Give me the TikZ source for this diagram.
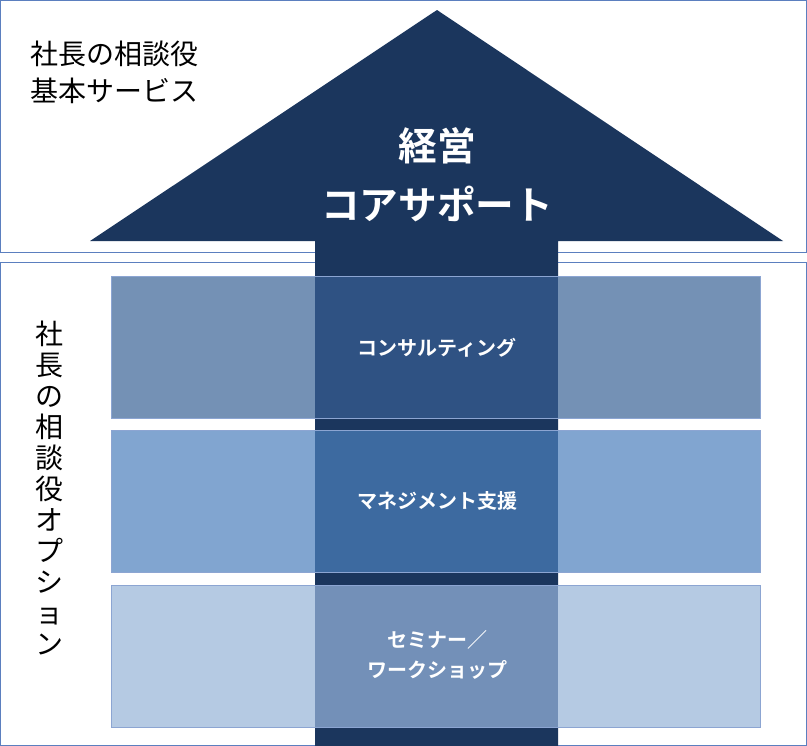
\documentclass[tikz,border=0pt]{standalone}
\usepackage{fontspec}
\newfontfamily\cjk{Noto Sans CJK JP}[BoldFont={Noto Sans CJK JP Bold}]
\definecolor{navy}{HTML}{1B365D}
\definecolor{frame}{HTML}{5B7FBF}
\definecolor{b1}{HTML}{7491B5}\definecolor{c1}{HTML}{2F5283}
\definecolor{b2}{HTML}{81A5D0}\definecolor{c2}{HTML}{3D6AA0}
\definecolor{b3}{HTML}{B5CAE3}\definecolor{c3}{HTML}{7390B8}
\begin{document}
\begin{tikzpicture}[x=0.75pt,y=-0.75pt,
  panel/.style={draw=frame,line width=0.6pt},
  bar/.style={draw=frame!70,line width=0.5pt},
  lbl/.style={text=white,font=\cjk\bfseries\fontsize{15}{20}\selectfont,align=center}]
\useasboundingbox (0,0) rectangle (807,746);
\draw[panel,fill=white] (0.5,0.5) rectangle (806.5,252) node[pos=0,coordinate](p1){};
\draw[panel,fill=white] (0.5,262) rectangle (806.5,745.5);
\fill[navy] (437,10) -- (783,241) -- (558,241) -- (558,746) -- (315,746) -- (315,241) -- (90,241) -- cycle;
\foreach \i/\ya/\yb in {1/276/418,2/430/572,3/585/727}{
  \fill[b\i] (111,\ya) rectangle (760,\yb);
  \fill[c\i] (315,\ya) rectangle (558,\yb);
  \draw[bar] (111,\ya) rectangle (760,\yb);
}
\node[lbl] (t1) at (437,348) {コンサルティング};
\node[lbl] (t2) at (437,501) {マネジメント支援};
\node[lbl] (t3) at (437,655) {セミナー／\\[2pt]ワークショップ};
\node[text=white,font=\cjk\bfseries\fontsize{29}{44}\selectfont,align=center] (core) at (437,175) {経営\\コアサポート};
\node[anchor=north west,font=\cjk\fontsize{21}{28}\selectfont,align=left] (top) at (26,36) {社長の相談役\\基本サービス};
\node[anchor=north,font=\cjk\fontsize{21}{23.3}\selectfont,align=center] (side) at (50,316) {社\\長\\の\\相\\談\\役\\オ\\プ\\シ\\ョ\\ン};
\end{tikzpicture}
\end{document}
